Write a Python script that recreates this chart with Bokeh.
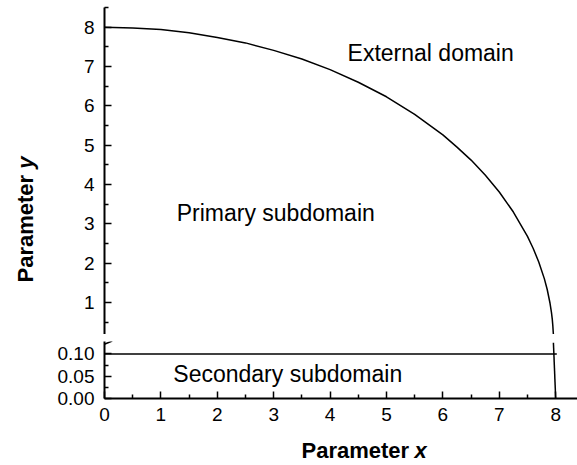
import math
from bokeh.plotting import figure
from bokeh.layouts import row, column
from bokeh.models import Range1d, FixedTicker, Arrow
from bokeh.core.properties import value
from bokeh.embed import file_html
from bokeh.resources import INLINE

# ---- data ----
# boundary of the primary subdomain (upper panel)
curve_x = [0, 0.5, 1, 1.5, 2, 2.5, 3, 3.5, 4, 4.5, 5, 5.5, 6, 6.25, 6.5, 6.75, 7,
           7.25, 7.5, 7.6, 7.7, 7.8, 7.85, 7.9, 7.925, 7.94, 7.95, 7.955, 7.96]
curve_y = [8.0, 7.98, 7.94, 7.86, 7.74, 7.60, 7.41, 7.19, 6.92, 6.60, 6.23, 5.78, 5.26, 4.95, 4.62, 4.24, 3.81,
           3.30, 2.68, 2.38, 2.03, 1.60, 1.33, 0.98, 0.75, 0.57, 0.40, 0.28, 0.18]
# secondary subdomain boundaries (lower panel)
sec_top_x = [0.0, 8.02]
sec_top_y = [0.10, 0.10]
sec_edge_x = [7.96, 8.0]
sec_edge_y = [0.125, 0.0]

upper_ticks = [1, 2, 3, 4, 5, 6, 7, 8]
upper_minor = [0.5, 1.5, 2.5, 3.5, 4.5, 5.5, 6.5, 7.5, 8.5]
lower_ticks = [0.0, 0.05, 0.10]
lower_minor = [0.025, 0.075]
lower_labels = {0.0: "0.00", 0.05: "0.05", 0.1: "0.10"}
x_ticks = [0, 1, 2, 3, 4, 5, 6, 7, 8]
x_minor = [0.5, 1.5, 2.5, 3.5, 4.5, 5.5, 6.5, 7.5]

upper_text = ["External domain", "Primary subdomain"]
upper_text_x = [4.31, 1.28]
upper_text_y = [7.35, 3.28]
lower_text = ["Secondary subdomain"]
lower_text_x = [1.22]
lower_text_y = [0.054]

FONT = "Liberation Sans"
TICK_SIZE = "19px"
TEXT_SIZE = "23px"
LABEL_SIZE = "22px"

x_range = Range1d(0, 8.387)


def style_axis(ax):
    ax.axis_line_width = 2
    ax.major_tick_line_width = 1.5
    ax.minor_tick_line_width = 1.5
    ax.major_tick_in = 7
    ax.major_tick_out = 0
    ax.minor_tick_in = 4
    ax.minor_tick_out = 0
    ax.major_label_text_font = FONT
    ax.major_label_text_font_size = TICK_SIZE
    ax.major_label_text_color = "black"
    ax.axis_line_color = "black"


# ---- upper panel ----
up = figure(width=529, height=334, x_range=x_range, y_range=Range1d(0.186, 8.5),
            output_backend="svg", toolbar_location=None, x_axis_location=None,
            min_border_left=56, min_border_right=0, min_border_top=7, min_border_bottom=0)
up.grid.visible = False
up.outline_line_color = None
up.yaxis.ticker = FixedTicker(ticks=upper_ticks, minor_ticks=upper_minor)
style_axis(up.yaxis[0])
up.yaxis.major_label_standoff = 10
up.line(curve_x, curve_y, line_color="black", line_width=1.5)
up.text(upper_text_x, upper_text_y, text=upper_text, text_font=value(FONT),
        text_font_size=TEXT_SIZE, text_color="black", text_baseline="alphabetic")

# ---- lower panel ----
lo = figure(width=529, height=94, x_range=x_range, y_range=Range1d(0, 0.128),
            output_backend="svg", toolbar_location=None,
            min_border_left=56, min_border_right=0, min_border_top=7, min_border_bottom=30)
lo.grid.visible = False
lo.outline_line_color = None
lo.yaxis.ticker = FixedTicker(ticks=lower_ticks, minor_ticks=lower_minor)
lo.yaxis.major_label_overrides = lower_labels
lo.xaxis.ticker = FixedTicker(ticks=x_ticks, minor_ticks=x_minor)
style_axis(lo.yaxis[0])
style_axis(lo.xaxis[0])
lo.yaxis.major_label_standoff = 10
lo.xaxis.major_label_standoff = 9
lo.line(sec_top_x, sec_top_y, line_color="black", line_width=1.5)
lo.line(sec_edge_x, sec_edge_y, line_color="black", line_width=1.5)
lo.text(lower_text_x, lower_text_y, text=lower_text, text_font=value(FONT),
        text_font_size=TEXT_SIZE, text_color="black", text_baseline="alphabetic")
# axis-break marks
for (xs, ys, xe, ye) in [(-0.142, 0.1306, 0.124, 0.1430), (-0.129, 0.1155, 0.137, 0.1291)]:
    lo.add_layout(Arrow(x_start=xs, y_start=ys, x_end=xe, y_end=ye, start=None, end=None,
                        line_color="black", line_width=1.5))

# ---- x axis title ----
xl = figure(width=529, height=37, x_range=Range1d(0, 529), y_range=Range1d(0, 37),
            output_backend="svg", toolbar_location=None, x_axis_location=None,
            y_axis_location=None, min_border=0)
xl.grid.visible = False
xl.outline_line_color = None
xl.text([340.7], [15.3], text=["Parameter"], text_font=value(FONT), text_font_size=LABEL_SIZE,
        text_font_style="bold", text_align="right", text_baseline="alphabetic", text_color="black")
xl.text([346.8], [15.3], text=["x"], text_font=value(FONT), text_font_size=LABEL_SIZE,
        text_font_style="bold italic", text_align="left", text_baseline="alphabetic", text_color="black")

# ---- y axis title ----
yl = figure(width=48, height=465, x_range=Range1d(0, 48), y_range=Range1d(0, 465),
            output_backend="svg", toolbar_location=None, x_axis_location=None,
            y_axis_location=None, min_border=0)
yl.grid.visible = False
yl.outline_line_color = None
yl.text([25], [183], text=["Parameter"], text_font=value(FONT), text_font_size=LABEL_SIZE,
        text_font_style="bold", text_align="left", text_baseline="alphabetic",
        angle=math.pi / 2, text_color="black")
yl.text([25], [296.7], text=["y"], text_font=value(FONT), text_font_size=LABEL_SIZE,
        text_font_style="bold italic", text_align="left", text_baseline="alphabetic",
        angle=math.pi / 2, text_color="black")

layout = row(yl, column(up, lo, xl))
open("out.html", "w").write(file_html(layout, INLINE))
